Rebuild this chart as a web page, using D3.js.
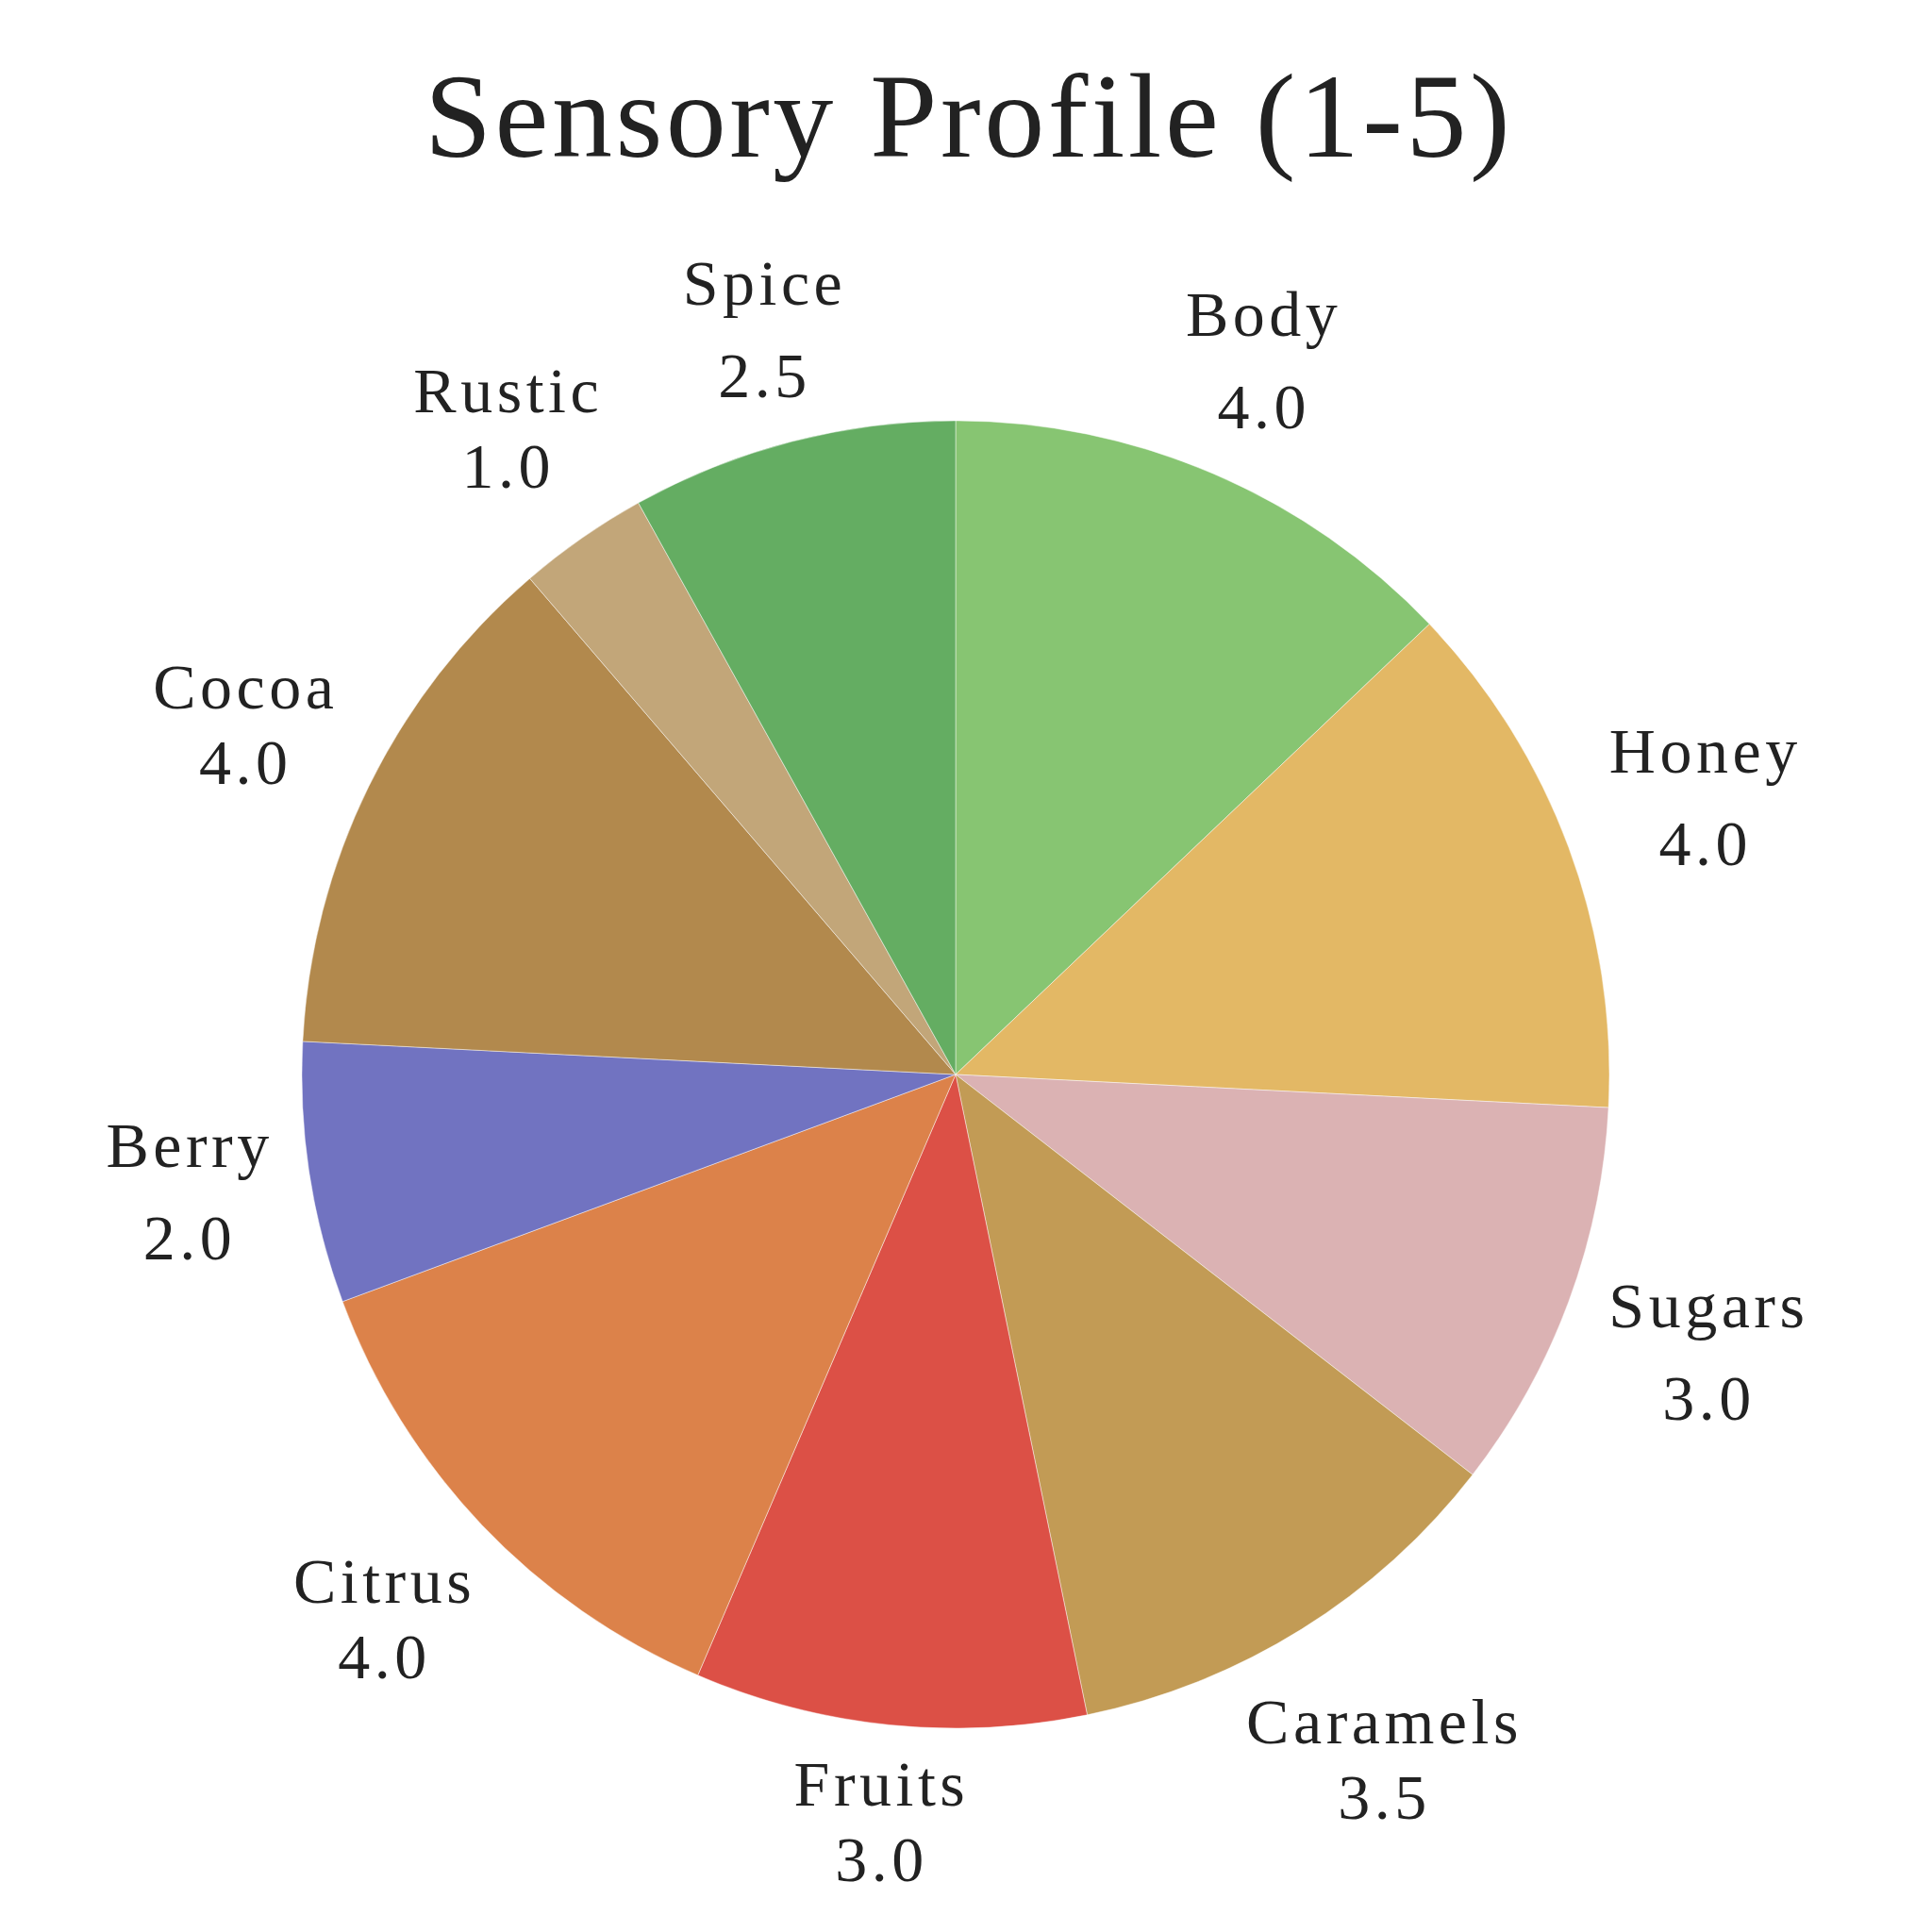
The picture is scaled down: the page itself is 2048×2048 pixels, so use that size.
<!DOCTYPE html>
<html>
<head>
<meta charset="utf-8">
<script src="https://cdn.jsdelivr.net/npm/d3@7"></script>
<style>
  html, body { margin: 0; padding: 0; background: #ffffff; }
  svg { display: block; }
</style>
</head>
<body>
<svg id="chart" width="2048" height="2048"></svg>
<script>
// ---- data ----
const categories = ["Body", "Honey", "Sugars", "Caramels", "Fruits", "Citrus", "Berry", "Cocoa", "Rustic", "Spice"];
const values = [4.0, 4.0, 3.0, 3.5, 3.0, 4.0, 2.0, 4.0, 1.0, 2.5];
const colors = ["#87c572", "#e3b865", "#dbb2b3", "#c29b55", "#dc5046", "#dc824a", "#7173c1", "#b2894d", "#c2a679", "#64ad62"];
const titleText = "Sensory Profile (1-5)";

// ---- layout ----
const W = 2048, H = 2048;
const cx = 1013, cy = 1139, radius = 693;
const labelPad = 32;
const fontFamily = "'Liberation Serif', 'Times New Roman', serif";
const labelSize = 68;
const capH = 0.662 * labelSize;
const textColor = "#222222";

const data = categories.map((c, i) => ({ name: c, value: values[i], color: colors[i] }));

const svg = d3.select("#chart");

svg.append("text")
  .attr("x", 1027)
  .attr("y", 166)
  .attr("text-anchor", "middle")
  .attr("font-family", fontFamily)
  .attr("font-size", 128)
  .attr("letter-spacing", 3.5)
  .attr("fill", textColor)
  .text(titleText);

const pie = d3.pie().sort(null).value(d => d.value).startAngle(0).endAngle(2 * Math.PI);
const arc = d3.arc().innerRadius(0).outerRadius(radius);
const arcs = pie(data);

const g = svg.append("g").attr("transform", `translate(${cx},${cy})`);

g.selectAll("path.slice")
  .data(arcs)
  .join("path")
  .attr("class", "slice")
  .attr("d", arc)
  .attr("fill", d => d.data.color)
  .attr("stroke", "rgba(255,255,255,0.45)")
  .attr("stroke-width", 1);

const fmt = d3.format(".1f");

const labels = g.selectAll("g.label")
  .data(arcs)
  .join("g")
  .attr("class", "label");

labels.each(function(d) {
  const sel = d3.select(this);
  const name = sel.append("text")
    .attr("text-anchor", "middle")
    .attr("font-family", fontFamily)
    .attr("font-size", labelSize)
    .attr("letter-spacing", 4.5)
    .attr("fill", textColor)
    .text(d.data.name);
  const val = sel.append("text")
    .attr("text-anchor", "middle")
    .attr("font-family", fontFamily)
    .attr("font-size", labelSize)
    .attr("letter-spacing", 4.5)
    .attr("fill", textColor)
    .text(fmt(d.data.value));
  const w = Math.max(name.node().getComputedTextLength(), val.node().getComputedTextLength());
  const gap = /[gjpqy]/.test(d.data.name) ? 98 : 80;
  const h = capH + gap;
  const a = (d.startAngle + d.endAngle) / 2;
  const ux = Math.sin(a), uy = -Math.cos(a);
  const dist = radius + labelPad + Math.abs(ux) * w / 2 + Math.abs(uy) * h / 2;
  const bx = ux * dist, by = uy * dist;
  name.attr("x", bx + 2).attr("y", by - h / 2 + capH);
  val.attr("x", bx + 2).attr("y", by + h / 2);
});
</script>
</body>
</html>
